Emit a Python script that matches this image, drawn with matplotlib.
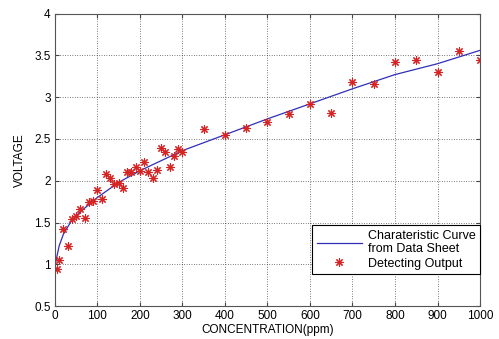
import matplotlib
matplotlib.use("Agg")
import matplotlib.pyplot as plt

# datasheet curve
curve_ppm = [2, 10, 20, 40, 60, 100, 150, 200, 250, 300, 400, 500, 600, 700, 800, 900, 1000]
curve_volt = [1.03, 1.22, 1.36, 1.53, 1.63, 1.80, 1.98, 2.12, 2.24, 2.36, 2.55, 2.74, 2.92,
              3.10, 3.27, 3.40, 3.56]

# measured points
meas_ppm = [5, 10, 20, 30, 40, 50, 60, 70, 80, 90, 100, 110, 120, 130, 140, 150, 160,
            170, 180, 190, 200, 210, 220, 230, 240, 250, 260, 270, 280, 290, 300,
            350, 400, 450, 500, 550, 600, 650, 700, 750, 800, 850, 900, 950, 1000]
meas_volt = [0.94, 1.05, 1.42, 1.22, 1.54, 1.58, 1.66, 1.56, 1.74, 1.76, 1.89, 1.78, 2.08,
             2.03, 1.96, 1.97, 1.91, 2.10, 2.11, 2.17, 2.12, 2.23, 2.11, 2.03, 2.13, 2.39,
             2.34, 2.17, 2.30, 2.38, 2.34, 2.62, 2.55, 2.63, 2.70, 2.80, 2.92, 2.81, 3.18,
             3.16, 3.42, 3.45, 3.30, 3.55, 3.45]

xticks = list(range(0, 1001, 100))
yticks = [0.5, 1, 1.5, 2, 2.5, 3, 3.5, 4]
ylabels = ["0.5", "1", "1.5", "2", "2.5", "3", "3.5", "4"]

plt.rcParams["font.family"] = ["Liberation Sans", "DejaVu Sans"]

fig = plt.figure(figsize=(4.99, 3.39), dpi=100)
ax = fig.add_axes([0.110, 0.097, 0.852, 0.863])

ax.plot(curve_ppm, curve_volt, color="#2f2fb8", linewidth=0.9,
        label="Charateristic Curve\nfrom Data Sheet")
ax.plot(meas_ppm, meas_volt, linestyle="none", marker=(8, 2, 0), markersize=6,
        markeredgewidth=0.8, color="#d42424", label="Detecting Output")

ax.set_xlim(0, 1000)
ax.set_ylim(0.5, 4)
ax.set_xticks(xticks)
ax.set_yticks(yticks)
ax.set_yticklabels(ylabels)
ax.tick_params(direction="in", top=True, right=True, labelsize=8.5, length=3,
               color="#444444", pad=3)
ax.grid(True, linestyle=(0, (1, 2.5)), color="black", linewidth=0.5)
for s in ax.spines.values():
    s.set_color("#555555")
    s.set_linewidth(0.8)

ax.set_xlabel("CONCENTRATION(ppm)", fontsize=8.5, labelpad=1)
ax.set_ylabel("VOLTAGE", fontsize=8.5, labelpad=6)

leg = ax.legend(loc="lower right", bbox_to_anchor=(1.0, 0.109), fontsize=9,
                fancybox=False, framealpha=1, edgecolor="black", borderaxespad=0,
                handlelength=3.6, labelspacing=0.2, borderpad=0.35, handletextpad=0.5)
leg.get_frame().set_linewidth(0.8)

fig.savefig("out.png", dpi=100)
